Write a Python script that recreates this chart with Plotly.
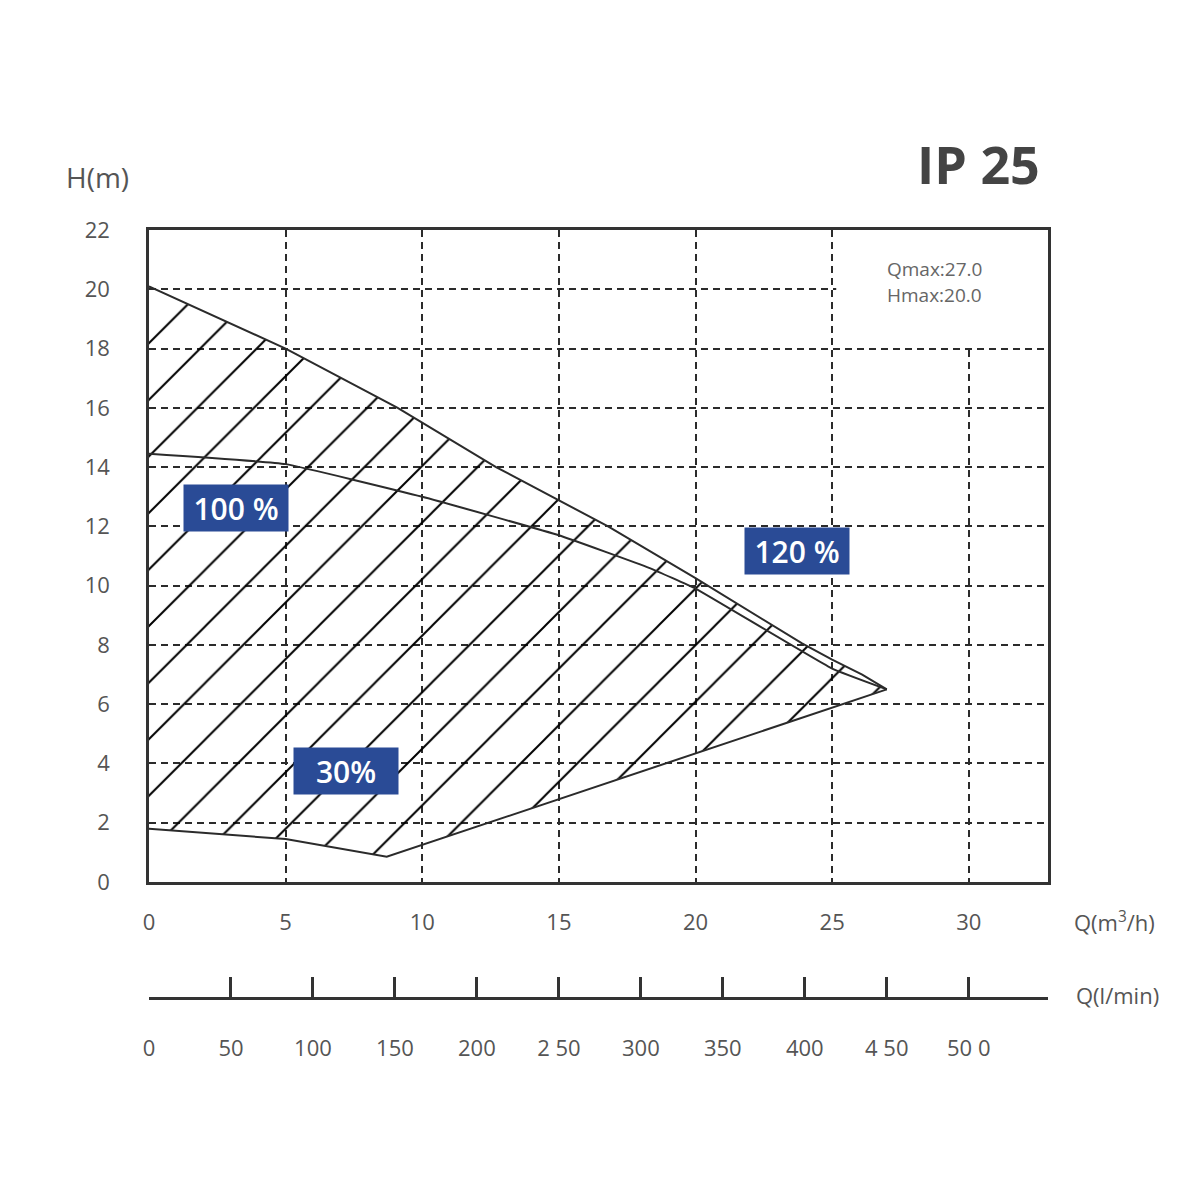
import plotly.graph_objects as go

# pump curves, Q in m3/h, H in m
q_120 = [0, 5, 9.1, 12.7, 16.8, 20, 23.9, 25, 26.1, 27]
h_120 = [20.1, 18.0, 16.0, 14.0, 12.0, 10.25, 8.05, 7.5, 7.0, 6.5]

q_100 = [0, 5, 10, 15, 18.3, 20, 25, 27]
h_100 = [14.45, 14.1, 13.0, 11.7, 10.6, 9.9, 7.2, 6.5]

q_30 = [0, 5, 8.7, 12.6, 20, 27]
h_30 = [1.8, 1.45, 0.85, 2.05, 4.35, 6.5]

q_ticks = [0, 5, 10, 15, 20, 25, 30]
h_ticks = [0, 2, 4, 6, 8, 10, 12, 14, 16, 18, 20, 22]
lmin_vals = [0, 50, 100, 150, 200, 250, 300, 350, 400, 450, 500]
lmin_text = ["0", "50", "100", "150", "200", "2 50", "300", "350", "400", "4 50", "50 0"]

Q_MAX = 32.9
FONT = "Open Sans"
GREY = "#555555"
INK = "#2b2b2b"
BLUE = "#2a4b96"

fig = go.Figure()

# hatched operating area between the max curve and the 30% curve
fig.add_trace(go.Scatter(
    x=q_120 + q_30[::-1], y=h_120 + h_30[::-1],
    fill="toself", mode="lines", line=dict(width=0),
    fillcolor="rgba(0,0,0,0)",
    fillpattern=dict(shape="/", size=40, solidity=0.05, fillmode="replace",
                     fgcolor="#000000", fgopacity=1, bgcolor="rgba(0,0,0,0)"),
    hoverinfo="skip", showlegend=False,
))

fig.add_trace(go.Scatter(x=q_120, y=h_120, mode="lines",
                         line=dict(color=INK, width=2), showlegend=False))
fig.add_trace(go.Scatter(x=q_100, y=h_100, mode="lines",
                         line=dict(color=INK, width=2, shape="spline", smoothing=0.3),
                         showlegend=False))
fig.add_trace(go.Scatter(x=q_30, y=h_30, mode="lines",
                         line=dict(color=INK, width=2), showlegend=False))

# empty trace so the l/min axis gets drawn
fig.add_trace(go.Scatter(x=lmin_vals, y=[None] * len(lmin_vals), xaxis="x2",
                         mode="lines", hoverinfo="skip", showlegend=False))

axis_style = dict(
    showgrid=True, gridcolor=INK, gridwidth=1.6, griddash="7px,5px",
    showline=True, mirror=True, linecolor="#333333", linewidth=2.5,
    ticks="", zeroline=False,
    tickfont=dict(family=FONT, size=22, color=GREY),
)

fig.update_layout(
    width=1200, height=1200,
    margin=dict(l=141, r=160, t=222, b=100),
    paper_bgcolor="white", plot_bgcolor="white",
    showlegend=False,
    xaxis=dict(range=[0, Q_MAX], tickvals=q_ticks, ticklabelstandoff=19, **axis_style),
    yaxis=dict(range=[0, 22], tickvals=h_ticks, domain=[0.2574, 1],
               ticklabelstandoff=32, **axis_style),
    xaxis2=dict(
        overlaying="x", anchor="free", position=0.1253, side="bottom",
        range=[0, Q_MAX * 1000 / 60], tickvals=lmin_vals, ticktext=lmin_text,
        ticks="inside", ticklen=20, tickwidth=2.5, tickcolor="#333333",
        showline=True, linecolor="#333333", linewidth=2.5,
        showgrid=False, zeroline=False, ticklabelstandoff=30,
        tickfont=dict(family=FONT, size=22, color=GREY),
    ),
)

# blank the grid behind the Qmax / Hmax note
fig.add_shape(type="rect", xref="x", yref="y", x0=25.15, x1=Q_MAX, y0=18.12, y1=22,
              fillcolor="white", line=dict(width=0), layer="between")


# screen pixel (as in the reference) -> paper coordinates
def px_x(p):
    return (p - 148) / 899


def px_y(p):
    return (1107 - p) / 878


fig.add_annotation(text="<b>IP 25</b>", xref="paper", yref="paper",
                   x=px_x(1041), y=px_y(162), xanchor="right", yanchor="middle",
                   showarrow=False, font=dict(family=FONT, size=52, color="#444444"))
fig.add_annotation(text="H(m)", xref="paper", yref="paper",
                   x=px_x(96), y=px_y(176), xanchor="center", yanchor="middle",
                   showarrow=False, font=dict(family=FONT, size=28, color=GREY))
fig.add_annotation(text="Q(m<sup>3</sup>/h)", xref="paper", yref="paper",
                   x=px_x(1071), y=px_y(920), xanchor="left", yanchor="middle",
                   showarrow=False, font=dict(family=FONT, size=22, color=GREY))
fig.add_annotation(text="Q(l/min)", xref="paper", yref="paper",
                   x=px_x(1073), y=px_y(994), xanchor="left", yanchor="middle",
                   showarrow=False, font=dict(family=FONT, size=22, color=GREY))

fig.add_annotation(text="Qmax:27.0", x=26.95, y=20.68, xanchor="left", yanchor="middle",
                   showarrow=False, font=dict(family=FONT, size=19, color="#666666"))
fig.add_annotation(text="Hmax:20.0", x=26.95, y=19.8, xanchor="left", yanchor="middle",
                   showarrow=False, font=dict(family=FONT, size=19, color="#666666"))

for label, qx, hy in [("100 %", 3.2, 12.63), ("120 %", 23.7, 11.17), ("30%", 7.22, 3.75)]:
    fig.add_annotation(text=label, x=qx, y=hy, showarrow=False,
                       width=104, height=46, borderpad=0, bgcolor=BLUE,
                       font=dict(family=FONT, size=30, color="white", weight=600))

fig.write_html("out.html")
